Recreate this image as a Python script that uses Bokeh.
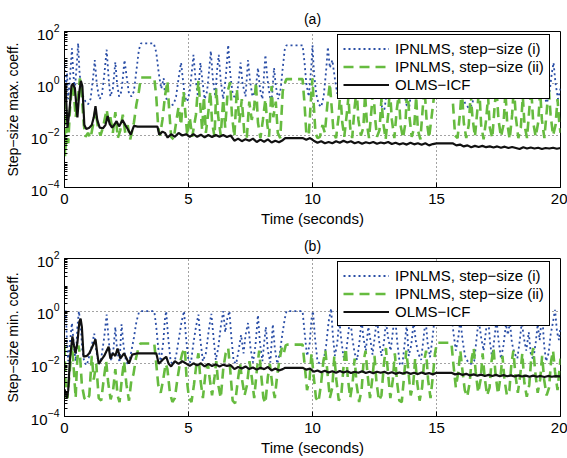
from bokeh.plotting import figure
from bokeh.models import Range1d, FixedTicker, Legend, LegendItem
from bokeh.layouts import column
from bokeh.embed import file_html
from bokeh.resources import INLINE

FONT = "Liberation Sans"
X_TICKS = [0, 5, 10, 15, 20]
Y_TICKS = [1e-4, 1e-2, 1e0, 1e2]
Y_MINOR = [k * 10.0 ** n for n in range(-4, 2) for k in range(2, 10)]
LABELS = ["IPNLMS, step\u2212size (i)", "IPNLMS, step\u2212size (ii)", "OLMS\u2212ICF"]

# ---- panel (a): (time s, log10 step-size) ----
A_IPN1 = [(0.0, 0.9), (0.05, -0.3), (0.1, 0.4), (0.15, -0.6), (0.22, 0.2), (0.3, 1.35), (0.36, 0.3), (0.42, -0.2),
          (0.5, 0.8), (0.55, 1.55), (0.6, 0.5), (0.68, -0.3), (0.75, -0.5), (0.85, -0.7), (0.95, -0.8), (1.05, -0.6),
          (1.15, 0.2), (1.22, 0.9), (1.3, 0.0), (1.4, -0.6), (1.5, -0.5), (1.6, 0.3), (1.7, 1.3), (1.78, 0.2),
          (1.85, -0.5), (1.95, -0.2), (2.05, 0.82), (2.12, 0.0), (2.2, -0.5), (2.3, -0.3), (2.42, 0.9), (2.5, 0.3),
          (2.6, -0.4), (2.7, -0.5), (2.8, -0.3), (2.9, 0.5), (3.0, 1.3), (3.08, 1.54), (3.6, 1.54), (3.7, 1.2),
          (3.8, 0.4), (3.9, -0.2), (4.0, 0.2), (4.05, -0.4), (4.15, -0.7), (4.3, -0.85), (4.4, -0.8), (4.5, -0.5),
          (4.6, 0.2), (4.7, 0.8), (4.78, 0.1), (4.85, -0.5), (4.95, -0.7), (5.05, -0.3), (5.15, 0.6), (5.2, 1.1),
          (5.28, 0.2), (5.38, -0.5), (5.48, 0.8), (5.55, 0.2), (5.65, -0.6), (5.75, -0.3), (5.85, 0.7), (5.9, 1.25),
          (5.98, 0.2), (6.08, -0.5), (6.15, 0.5), (6.22, 1.1), (6.3, 0.1), (6.4, -0.6), (6.5, 0.2), (6.6, 1.48),
          (6.68, 0.4), (6.78, -0.4), (6.9, -0.6), (7.0, -0.1), (7.1, 0.8), (7.18, 0.0), (7.3, -0.5), (7.4, 0.9),
          (7.48, 0.1), (7.58, -0.5), (7.7, -0.3), (7.8, 0.6), (7.88, -0.2), (7.98, -0.6), (8.1, 1.1), (8.18, 0.2),
          (8.28, -0.5), (8.35, -0.7), (8.45, 0.6), (8.52, -0.1), (8.62, -0.6), (8.72, -0.2), (8.8, 0.6), (8.88, 1.3),
          (8.95, 1.47), (9.6, 1.47), (9.68, 0.8), (9.75, 0.0), (9.85, -0.5), (9.95, 0.6), (10.0, 1.47), (10.06, 0.4),
          (10.15, -0.4), (10.25, -0.8), (10.35, -0.9), (10.45, -0.5), (10.55, 0.5), (10.62, 1.4), (10.7, 0.6),
          (10.8, 0.9), (10.9, 0.2), (11.0, -0.4), (11.1, 0.5), (11.2, 1.2), (11.3, 0.3), (11.4, -0.4), (11.5, -0.55),
          (11.6, 0.4), (11.7, 1.0), (11.8, 0.1), (11.9, -0.5), (12.0, 0.2), (12.1, 1.3), (12.2, 0.4), (12.3, -0.4),
          (12.4, -0.55), (12.5, 0.6), (12.6, 0.9), (12.7, -0.2), (12.8, -0.9), (12.9, -1.0), (13.0, -0.3), (13.1, 0.7),
          (13.2, 1.4), (13.3, 0.5), (13.4, -0.3), (13.5, -0.55), (13.6, 0.3), (13.7, -0.4), (13.8, -0.85),
          (13.9, -0.9), (14.0, -0.2), (14.1, 0.8), (14.2, 1.2), (14.3, 0.2), (14.4, -0.5), (14.5, 0.3), (14.6, 1.0),
          (14.7, 0.0), (14.8, -0.5), (14.9, 0.4), (15.0, 1.5), (15.6, 1.5), (15.7, 0.6), (15.8, -0.2), (15.9, -0.5),
          (16.0, -0.4), (16.15, -0.75), (16.3, -0.95), (16.45, -0.8), (16.55, 0.0), (16.65, 1.0), (16.75, 0.2),
          (16.85, -0.5), (16.95, 0.5), (17.05, 1.2), (17.15, 0.1), (17.25, -0.55), (17.35, 0.3), (17.45, 1.3),
          (17.55, 0.2), (17.65, -0.4), (17.75, -0.55), (17.85, 0.4), (17.95, 1.1), (18.05, 0.0), (18.15, -0.5),
          (18.25, 0.6), (18.35, 1.3), (18.45, 0.2), (18.55, -0.5), (18.65, 0.3), (18.75, 0.9), (18.85, -0.1),
          (18.95, -0.55), (19.05, 0.5), (19.15, 1.2), (19.25, 0.2), (19.35, -0.5), (19.45, -0.75), (19.55, -0.4),
          (19.65, 0.4), (19.72, 0.8), (19.8, 0.0), (19.9, -0.6), (20.0, -0.2)]

A_IPN2 = [(0.0, 0.0), (0.02, -2.8), (0.08, -1.7), (0.15, -2.3), (0.22, -1.0), (0.3, -0.07), (0.37, -0.3),
          (0.45, -1.3), (0.52, -0.8), (0.62, 0.2), (0.7, -0.5), (0.78, -1.6), (0.85, -2.05), (0.95, -1.9),
          (1.05, -2.1), (1.15, -1.6), (1.25, -1.0), (1.35, -1.7), (1.45, -2.0), (1.55, -1.7), (1.7, -1.0),
          (1.78, -1.5), (1.85, -1.3), (1.95, -1.9), (2.05, -1.1), (2.15, -2.1), (2.25, -1.8), (2.35, -1.2),
          (2.45, -1.9), (2.55, -1.6), (2.65, -2.15), (2.8, -1.5), (2.9, -0.8), (3.0, -0.3), (3.08, 0.23),
          (3.62, 0.23), (3.7, -0.5), (3.78, -1.7), (3.85, -2.0), (3.95, -1.4), (4.05, -0.5), (4.15, 0.1),
          (4.22, -1.0), (4.3, -2.05), (4.4, -2.15), (4.5, -1.5), (4.6, -0.9), (4.7, -1.6), (4.8, -0.3), (4.88, -1.2),
          (4.95, -2.0), (5.05, -1.3), (5.15, -2.05), (5.3, -1.2), (5.4, 0.1), (5.48, -0.9), (5.55, -1.8),
          (5.62, -0.5), (5.7, -1.9), (5.8, -1.1), (5.88, -0.3), (5.95, -1.5), (6.05, -2.05), (6.12, -0.2),
          (6.2, -1.3), (6.3, -2.0), (6.4, -0.6), (6.48, -1.7), (6.58, -0.3), (6.68, 0.05), (6.75, -1.2),
          (6.85, -2.05), (6.95, -0.2), (7.05, -1.5), (7.15, -0.6), (7.25, -1.9), (7.35, -2.1), (7.45, -0.7),
          (7.55, -1.4), (7.65, -0.9), (7.72, 0.05), (7.8, -1.5), (7.9, -2.1), (8.0, -1.4), (8.1, -0.6), (8.18, -1.6),
          (8.25, -2.05), (8.35, -0.1), (8.42, -1.3), (8.52, -0.7), (8.6, -1.9), (8.7, -2.1), (8.8, -0.3),
          (8.88, 0.0), (8.95, 0.17), (9.6, 0.17), (9.68, -0.8), (9.75, -1.9), (9.85, -2.0), (9.95, -0.4),
          (10.0, 0.2), (10.05, -0.8), (10.12, -1.9), (10.2, -2.1), (10.3, -2.05), (10.4, -1.6), (10.5, -1.9),
          (10.6, -0.8), (10.7, 0.0), (10.78, -1.0), (10.85, -1.9), (10.95, -2.1), (11.05, -1.3), (11.12, -0.3),
          (11.2, -1.5), (11.28, -2.05), (11.38, -1.2), (11.45, -0.5), (11.52, -1.7), (11.6, -2.1), (11.7, -0.9),
          (11.78, -0.2), (11.85, -1.4), (11.95, -2.0), (12.05, -1.7), (12.12, -0.4), (12.2, -1.6), (12.28, -2.1),
          (12.38, -1.0), (12.45, -0.1), (12.52, -1.3), (12.6, -2.05), (12.7, -1.8), (12.78, -0.6), (12.85, -1.5),
          (12.95, -2.15), (13.05, -1.2), (13.12, -0.2), (13.2, -1.4), (13.3, -2.1), (13.4, -1.0), (13.48, -0.4),
          (13.55, -1.6), (13.65, -2.1), (13.75, -1.5), (13.82, -0.1), (13.9, -1.2), (14.0, -2.05), (14.1, -1.7),
          (14.18, -0.5), (14.25, -1.8), (14.35, -2.15), (14.45, -0.9), (14.52, -0.2), (14.6, -1.4), (14.7, -2.1),
          (14.8, -1.3), (14.9, -0.5), (14.98, 0.0), (15.05, 0.2), (15.6, 0.2), (15.68, -1.0), (15.75, -2.0),
          (15.85, -2.1), (15.95, -1.1), (16.02, -0.2), (16.1, -1.5), (16.2, -2.1), (16.3, -1.6), (16.38, -0.4),
          (16.45, -1.3), (16.55, -2.05), (16.65, -1.0), (16.72, -0.1), (16.8, -1.6), (16.9, -2.15), (17.0, -1.4),
          (17.08, -0.5), (17.15, -1.7), (17.25, -2.1), (17.35, -0.8), (17.42, -0.2), (17.5, -1.4), (17.6, -2.05),
          (17.7, -1.6), (17.78, -0.3), (17.85, -1.5), (17.95, -2.15), (18.05, -1.2), (18.12, -0.1), (18.2, -1.3),
          (18.3, -2.1), (18.4, -1.7), (18.48, -0.5), (18.55, -1.6), (18.65, -2.1), (18.75, -0.9), (18.82, -0.2),
          (18.9, -1.5), (19.0, -2.05), (19.1, -1.5), (19.18, -0.3), (19.25, -1.4), (19.35, -2.1), (19.45, -1.0),
          (19.52, -0.1), (19.6, -1.2), (19.7, -2.0), (19.8, -1.6), (19.88, -0.6), (19.95, -1.5), (20.0, -1.9)]

A_OLMS = [(0.0, 0.0), (0.04, -0.06), (0.12, -1.7), (0.2, -1.05), (0.28, -0.1), (0.34, 0.0), (0.42, -0.2),
          (0.52, -1.3), (0.6, -0.3), (0.66, 0.1), (0.72, -0.1), (0.8, -1.6), (0.88, -1.75), (1.0, -1.7),
          (1.1, -1.6), (1.18, -1.3), (1.25, -0.87), (1.32, -1.4), (1.42, -1.7), (1.55, -1.72), (1.65, -1.6),
          (1.74, -1.25), (1.82, -1.55), (1.92, -1.7), (2.0, -1.6), (2.1, -1.45), (2.2, -1.65), (2.34, -1.4),
          (2.45, -1.6), (2.55, -1.75), (2.67, -1.97), (2.8, -1.63), (2.95, -1.66), (3.75, -1.66), (3.82, -1.97),
          (3.95, -1.85), (4.05, -1.9), (4.16, -2.08), (4.3, -1.95), (4.45, -2.05), (4.6, -1.9), (4.75, -2.0),
          (4.9, -1.95), (5.05, -2.05), (5.2, -1.95), (5.35, -2.05), (5.5, -1.97), (5.65, -2.07), (5.8, -1.98),
          (5.95, -2.06), (6.1, -1.98), (6.25, -2.05), (6.4, -1.98), (6.55, -2.06), (6.7, -2.0), (6.85, -2.2),
          (7.0, -2.12), (7.15, -2.22), (7.3, -2.14), (7.45, -2.2), (7.6, -2.12), (7.75, -2.25), (7.9, -2.16),
          (8.05, -2.24), (8.2, -2.15), (8.35, -2.27), (8.5, -2.2), (8.65, -2.26), (8.8, -2.18), (8.9, -2.1),
          (9.6, -2.1), (9.75, -2.16), (9.9, -2.1), (10.05, -2.2), (10.2, -2.28), (10.35, -2.22), (10.5, -2.3),
          (10.65, -2.25), (10.8, -2.3), (10.95, -2.22), (11.1, -2.28), (11.25, -2.2), (11.4, -2.27), (11.55, -2.22),
          (11.7, -2.3), (11.85, -2.25), (12.0, -2.32), (12.15, -2.26), (12.3, -2.3), (12.45, -2.25), (12.6, -2.32),
          (12.75, -2.27), (12.9, -2.3), (13.05, -2.25), (13.2, -2.33), (13.35, -2.28), (13.5, -2.34), (13.65, -2.3),
          (13.8, -2.35), (13.95, -2.28), (14.1, -2.34), (14.25, -2.3), (14.4, -2.36), (14.55, -2.3), (14.7, -2.38),
          (14.85, -2.33), (15.0, -2.3), (15.65, -2.3), (15.8, -2.38), (15.95, -2.35), (16.1, -2.42), (16.25, -2.38),
          (16.4, -2.45), (16.55, -2.4), (16.7, -2.44), (16.85, -2.4), (17.0, -2.45), (17.15, -2.42), (17.3, -2.46),
          (17.45, -2.42), (17.6, -2.47), (17.75, -2.43), (17.9, -2.48), (18.05, -2.44), (18.2, -2.48),
          (18.35, -2.52), (18.5, -2.45), (18.65, -2.5), (18.8, -2.46), (18.95, -2.5), (19.1, -2.47), (19.25, -2.52),
          (19.4, -2.48), (19.55, -2.5), (19.7, -2.47), (19.85, -2.51), (20.0, -2.48)]

# ---- panel (b) ----
B_IPN1 = [(0.0, -0.3), (0.05, 0.05), (0.1, -1.2), (0.15, -1.9), (0.22, -1.2), (0.3, -0.45), (0.38, -1.3),
          (0.45, -1.9), (0.52, -0.6), (0.58, 0.0), (0.65, -0.5), (0.72, -1.5), (0.8, -1.95), (0.9, -2.05),
          (1.0, -1.7), (1.1, -1.3), (1.2, -0.85), (1.28, -1.5), (1.38, -2.0), (1.48, -1.8), (1.6, -1.0), (1.7, -0.13),
          (1.78, -1.1), (1.88, -1.9), (1.98, -1.4), (2.05, -0.6), (2.12, -1.5), (2.22, -1.95), (2.3, -0.5),
          (2.38, -1.3), (2.48, -1.9), (2.58, -2.05), (2.68, -1.6), (2.8, -1.0), (2.9, -0.4), (3.0, -0.05),
          (3.05, 0.0), (3.62, 0.0), (3.7, -0.6), (3.78, -1.4), (3.88, -1.9), (3.98, -1.2), (4.05, -0.3), (4.1, 0.0),
          (4.18, -1.0), (4.28, -1.9), (4.38, -2.05), (4.5, -1.7), (4.62, -1.0), (4.72, -0.4), (4.82, 0.0),
          (4.9, -1.0), (5.0, -1.9), (5.1, -1.95), (5.2, -1.2), (5.3, -0.6), (5.4, -0.13), (5.48, -1.1), (5.58, -1.9),
          (5.7, -1.6), (5.82, -0.7), (5.92, -0.1), (6.0, -0.9), (6.1, -1.85), (6.2, -1.4), (6.3, -0.6), (6.4, 0.0),
          (6.48, -0.8), (6.56, -0.3), (6.65, 0.0), (6.72, -0.9), (6.82, -1.9), (6.92, -2.0), (7.02, -1.5),
          (7.12, -0.9), (7.22, -1.6), (7.3, -0.9), (7.4, -0.45), (7.5, -1.4), (7.6, -1.95), (7.7, -1.3),
          (7.8, -0.15), (7.88, -1.2), (7.98, -1.9), (8.05, -1.2), (8.12, -0.6), (8.2, -1.5), (8.3, -1.95),
          (8.4, -0.5), (8.48, -1.4), (8.58, -2.0), (8.68, -1.6), (8.78, -0.9), (8.88, -0.3), (8.95, 0.0), (9.6, 0.0),
          (9.68, -0.8), (9.78, -1.7), (9.88, -1.3), (9.96, -0.3), (10.02, 0.0), (10.1, -1.0), (10.2, -1.9),
          (10.3, -2.0), (10.42, -2.05), (10.55, -1.3), (10.65, -0.4), (10.75, 0.1), (10.82, -0.9), (10.9, -1.7),
          (11.0, -1.2), (11.08, -0.3), (11.15, -1.0), (11.25, -1.75), (11.35, -1.6), (11.45, -0.8), (11.52, -0.2),
          (11.6, -1.0), (11.7, -1.6), (11.8, -1.85), (11.9, -1.1), (11.98, -0.3), (12.05, -1.0), (12.15, -1.5),
          (12.25, -0.6), (12.32, -1.0), (12.42, -1.65), (12.52, -0.9), (12.6, -0.2), (12.68, -1.1), (12.78, -1.7),
          (12.88, -1.2), (12.96, -0.4), (13.05, -1.0), (13.15, -1.5), (13.25, -0.7), (13.32, -0.1), (13.42, -1.2),
          (13.52, -2.0), (13.62, -2.05), (13.72, -1.2), (13.8, -0.5), (13.88, -1.7), (13.98, -1.3), (14.08, -0.4),
          (14.16, -1.1), (14.26, -1.6), (14.38, -1.85), (14.48, -1.0), (14.56, -0.3), (14.64, -1.2), (14.74, -1.75),
          (14.84, -1.0), (14.92, -0.3), (15.0, 0.0), (15.6, 0.0), (15.68, -0.8), (15.78, -1.5), (15.88, -1.0),
          (15.96, -0.3), (16.05, -1.1), (16.15, -1.7), (16.28, -1.95), (16.4, -2.0), (16.52, -1.9), (16.62, -1.0),
          (16.7, -0.3), (16.8, -1.0), (16.9, -1.5), (17.0, -0.7), (17.08, -0.2), (17.16, -1.2), (17.24, -1.75),
          (17.34, -1.0), (17.42, -0.3), (17.5, -1.1), (17.6, -1.8), (17.7, -1.3), (17.8, -0.5), (17.88, -0.9),
          (17.96, -0.4), (18.04, -1.2), (18.14, -1.6), (18.26, -1.8), (18.36, -1.1), (18.44, -0.4), (18.52, -1.0),
          (18.62, -1.5), (18.72, -0.8), (18.8, -1.6), (18.9, -1.85), (19.0, -1.2), (19.08, -0.5), (19.16, -1.1),
          (19.26, -0.1), (19.34, -1.3), (19.42, -1.9), (19.52, -1.6), (19.6, -0.9), (19.7, -0.4), (19.78, 0.05),
          (19.86, -0.8), (19.94, -1.1), (20.0, -0.6)]

B_IPN2 = [(0.0, -1.3), (0.03, -2.5), (0.07, -3.25), (0.12, -3.3), (0.2, -2.4), (0.3, -1.3), (0.36, -2.0),
          (0.45, -3.3), (0.5, -2.1), (0.56, -1.3), (0.62, -1.6), (0.7, -2.8), (0.8, -3.3), (0.9, -3.4), (1.0, -3.2),
          (1.1, -1.7), (1.18, -2.6), (1.28, -2.0), (1.38, -3.3), (1.48, -3.4), (1.58, -2.6), (1.68, -1.9),
          (1.76, -2.7), (1.86, -3.35), (1.96, -3.0), (2.05, -2.2), (2.14, -3.2), (2.22, -3.45), (2.32, -2.5),
          (2.4, -1.9), (2.5, -2.8), (2.6, -3.4), (2.7, -2.6), (2.78, -2.4), (2.88, -1.8), (2.98, -1.4), (3.06, -1.23),
          (3.62, -1.23), (3.7, -2.0), (3.78, -2.8), (3.88, -3.1), (3.98, -2.6), (4.08, -2.0), (4.15, -2.2),
          (4.25, -3.1), (4.35, -3.45), (4.45, -3.3), (4.55, -2.6), (4.65, -2.0), (4.75, -1.6), (4.85, -1.4),
          (4.92, -2.5), (5.02, -3.3), (5.12, -3.45), (5.22, -2.8), (5.32, -2.0), (5.4, -1.6), (5.48, -2.6),
          (5.58, -3.3), (5.68, -2.4), (5.78, -2.0), (5.86, -2.6), (5.95, -3.2), (6.05, -2.5), (6.12, -1.9),
          (6.2, -2.8), (6.3, -3.3), (6.4, -2.2), (6.5, -1.6), (6.6, -1.4), (6.68, -2.2), (6.78, -3.4), (6.88, -3.5),
          (6.98, -2.7), (7.08, -2.0), (7.16, -2.6), (7.26, -3.2), (7.36, -2.8), (7.46, -1.9), (7.55, -2.5),
          (7.65, -3.3), (7.75, -2.3), (7.85, -1.5), (7.93, -2.4), (8.02, -3.3), (8.1, -3.5), (8.2, -2.5), (8.28, -2.0),
          (8.38, -2.8), (8.48, -3.3), (8.58, -2.4), (8.68, -1.8), (8.76, -1.4), (8.84, -1.6), (8.92, -1.3),
          (8.98, -1.27), (9.6, -1.27), (9.68, -2.0), (9.78, -3.0), (9.88, -2.6), (9.96, -1.6), (10.04, -2.4),
          (10.14, -3.3), (10.24, -3.45), (10.34, -2.8), (10.44, -1.9), (10.52, -1.5), (10.6, -2.3), (10.7, -3.3),
          (10.8, -2.9), (10.88, -1.7), (10.96, -2.6), (11.06, -3.4), (11.16, -3.2), (11.26, -2.0), (11.34, -1.4),
          (11.42, -2.5), (11.52, -3.3), (11.62, -2.7), (11.7, -1.8), (11.78, -2.8), (11.88, -3.45), (11.98, -3.0),
          (12.06, -1.9), (12.14, -1.5), (12.22, -2.4), (12.32, -3.3), (12.42, -2.5), (12.5, -1.7), (12.58, -2.7),
          (12.68, -3.4), (12.78, -3.2), (12.88, -2.0), (12.96, -1.4), (13.04, -2.3), (13.14, -3.3), (13.24, -2.6),
          (13.32, -1.6), (13.4, -2.6), (13.5, -3.4), (13.6, -3.45), (13.7, -2.4), (13.78, -1.5), (13.86, -2.2),
          (13.96, -3.2), (14.06, -2.8), (14.14, -1.8), (14.22, -2.7), (14.32, -3.4), (14.42, -2.9), (14.5, -1.9),
          (14.58, -1.5), (14.66, -2.6), (14.76, -3.3), (14.86, -2.4), (14.94, -1.6), (15.02, -1.2), (15.6, -1.2),
          (15.68, -2.0), (15.78, -2.9), (15.88, -2.3), (15.96, -1.5), (16.04, -2.2), (16.14, -3.0), (16.24, -3.25),
          (16.34, -2.7), (16.42, -1.8), (16.5, -1.4), (16.58, -2.3), (16.68, -3.1), (16.78, -2.6), (16.86, -1.6),
          (16.94, -2.5), (17.04, -3.2), (17.14, -2.9), (17.22, -1.9), (17.3, -1.4), (17.38, -2.4), (17.48, -3.15),
          (17.58, -2.5), (17.66, -1.7), (17.74, -2.6), (17.84, -3.2), (17.94, -3.0), (18.02, -2.0), (18.1, -1.5),
          (18.18, -2.4), (18.28, -3.1), (18.38, -2.4), (18.46, -1.6), (18.54, -2.7), (18.64, -3.25), (18.74, -2.8),
          (18.82, -1.8), (18.9, -1.4), (18.98, -2.3), (19.08, -3.1), (19.18, -2.6), (19.26, -1.7), (19.34, -2.6),
          (19.44, -3.2), (19.54, -2.9), (19.62, -1.9), (19.7, -1.5), (19.78, -2.3), (19.88, -3.0), (19.96, -2.2),
          (20.0, -1.8)]

B_OLMS = [(0.0, -2.97), (0.05, -3.1), (0.1, -3.3), (0.15, -3.0), (0.22, -1.8), (0.32, -0.96), (0.38, -1.3),
          (0.44, -1.6), (0.52, -1.2), (0.6, -0.4), (0.65, -0.28), (0.7, -0.6), (0.77, -1.73), (0.9, -1.7),
          (1.0, -1.6), (1.1, -1.4), (1.25, -1.07), (1.32, -1.6), (1.38, -2.0), (1.5, -1.83), (1.6, -1.7),
          (1.7, -1.5), (1.78, -1.35), (1.85, -1.8), (1.95, -1.6), (2.05, -1.7), (2.14, -1.42), (2.25, -1.8),
          (2.4, -1.6), (2.6, -1.99), (2.73, -1.65), (2.95, -1.6), (3.7, -1.6), (3.8, -2.0), (3.95, -1.85),
          (4.1, -1.73), (4.2, -2.0), (4.3, -2.1), (4.45, -1.9), (4.6, -2.0), (4.75, -1.9), (4.93, -2.0),
          (5.05, -2.08), (5.2, -1.98), (5.35, -2.06), (5.5, -1.98), (5.65, -2.1), (5.8, -2.0), (5.95, -2.08),
          (6.1, -2.02), (6.25, -2.1), (6.4, -2.03), (6.55, -2.08), (6.7, -2.05), (6.85, -2.2), (7.0, -2.12),
          (7.15, -2.18), (7.3, -2.1), (7.45, -2.2), (7.6, -2.14), (7.75, -2.22), (7.9, -2.15), (8.05, -2.2),
          (8.2, -2.12), (8.35, -2.25), (8.5, -2.18), (8.65, -2.25), (8.8, -2.2), (8.9, -2.15), (9.6, -2.15),
          (9.75, -2.22), (9.9, -2.18), (10.05, -2.3), (10.2, -2.25), (10.35, -2.32), (10.5, -2.26), (10.65, -2.33),
          (10.8, -2.28), (10.95, -2.34), (11.1, -2.27), (11.25, -2.33), (11.4, -2.28), (11.55, -2.35), (11.7, -2.3),
          (11.85, -2.34), (12.0, -2.28), (12.15, -2.35), (12.3, -2.3), (12.45, -2.36), (12.6, -2.3), (12.75, -2.34),
          (12.9, -2.3), (13.05, -2.37), (13.2, -2.32), (13.35, -2.38), (13.5, -2.33), (13.65, -2.37), (13.8, -2.32),
          (13.95, -2.38), (14.1, -2.34), (14.25, -2.39), (14.4, -2.33), (14.55, -2.38), (14.7, -2.35), (14.85, -2.4),
          (15.0, -2.34), (15.6, -2.34), (15.75, -2.4), (15.9, -2.37), (16.05, -2.42), (16.2, -2.38), (16.35, -2.44),
          (16.5, -2.4), (16.65, -2.45), (16.8, -2.41), (16.95, -2.46), (17.1, -2.42), (17.25, -2.46), (17.4, -2.42),
          (17.55, -2.47), (17.7, -2.43), (17.85, -2.47), (18.0, -2.44), (18.15, -2.48), (18.3, -2.44),
          (18.45, -2.48), (18.6, -2.45), (18.75, -2.49), (18.9, -2.45), (19.05, -2.49), (19.2, -2.46), (19.35, -2.5),
          (19.5, -2.46), (19.65, -2.49), (19.8, -2.47), (20.0, -2.48)]


def unpack(pairs):
    return [p[0] for p in pairs], [10.0 ** p[1] for p in pairs]


def make_panel(title, ylabel, s1, s2, s3, top, bottom, leg_y):
    p = figure(width=567, height=229, y_axis_type="log", x_range=Range1d(0, 20), y_range=Range1d(1e-4, 1e2),
               output_backend="svg", toolbar_location=None, min_border_left=64, min_border_right=7,
               min_border_top=top, min_border_bottom=bottom, title=title)
    p.title.align = "center"
    p.title.text_font = FONT
    p.title.text_font_style = "normal"
    p.title.text_font_size = "14px"
    p.title.text_color = "black"
    p.outline_line_color = "black"
    p.outline_line_alpha = 1.0
    p.background_fill_color = "white"
    p.border_fill_color = "white"

    xa = p.xaxis[0]
    ya = p.yaxis[0]
    xa.ticker = FixedTicker(ticks=X_TICKS, minor_ticks=[])
    ya.ticker = FixedTicker(ticks=Y_TICKS, minor_ticks=Y_MINOR)
    for ax in (xa, ya):
        ax.major_tick_in = 5
        ax.major_tick_out = 0
        ax.minor_tick_in = 3
        ax.minor_tick_out = 0
        ax.axis_line_color = "black"
        ax.major_tick_line_color = "black"
        ax.minor_tick_line_color = "black"
        ax.major_label_text_font = FONT
        ax.major_label_text_font_size = "15px"
        ax.major_label_text_color = "black"
        ax.axis_label_text_font = FONT
        ax.axis_label_text_font_size = "15px"
        ax.axis_label_text_font_style = "normal"
        ax.axis_label_text_color = "black"
    ya.axis_label_text_font_size = "14px"
    xa.axis_label = "Time (seconds)"
    xa.major_label_standoff = 6
    xa.axis_label_standoff = 3
    ya.axis_label = ylabel
    ya.major_label_standoff = 5
    ya.axis_label_standoff = 7

    p.xgrid.ticker = FixedTicker(ticks=[5, 10, 15], minor_ticks=[])
    p.ygrid.ticker = FixedTicker(ticks=[1e-2, 1e0], minor_ticks=[])
    for g in (p.xgrid, p.ygrid):
        g.grid_line_color = "#333333"
        g.grid_line_dash = "1 3"
        g.grid_line_width = 1
        g.grid_line_alpha = 0.9

    x1, y1 = unpack(s1)
    x2, y2 = unpack(s2)
    x3, y3 = unpack(s3)
    r1 = p.line(x1, y1, line_color="#2a4ea6", line_width=1.8, line_dash="2 3")
    r2 = p.line(x2, y2, line_color="#66bb3f", line_width=2.6, line_dash="10 6")
    r3 = p.line(x3, y3, line_color="#111111", line_width=2.2)

    leg = Legend(items=[LegendItem(label=LABELS[0], renderers=[r1]),
                        LegendItem(label=LABELS[1], renderers=[r2]),
                        LegendItem(label=LABELS[2], renderers=[r3])],
                 location=(273, leg_y))
    leg.label_text_font = FONT
    leg.label_text_font_size = "15px"
    leg.label_text_color = "black"
    leg.glyph_width = 46
    leg.glyph_height = 17
    leg.label_height = 17
    leg.label_standoff = 6
    leg.spacing = 1
    leg.padding = 5
    leg.margin = 0
    leg.border_line_color = "black"
    leg.border_line_width = 1
    leg.border_line_alpha = 1.0
    leg.background_fill_color = "white"
    leg.background_fill_alpha = 1.0
    p.add_layout(leg)
    return p


pa = make_panel("(a)", "Step\u2212size max. coeff.", A_IPN1, A_IPN2, A_OLMS, 31, 41, 88)
pb = make_panel("(b)", "Step\u2212size min. coeff.", B_IPN1, B_IPN2, B_OLMS, 29, 42, 90)

layout = column(pa, pb, spacing=0)
open("out.html", "w").write(file_html(layout, INLINE))
